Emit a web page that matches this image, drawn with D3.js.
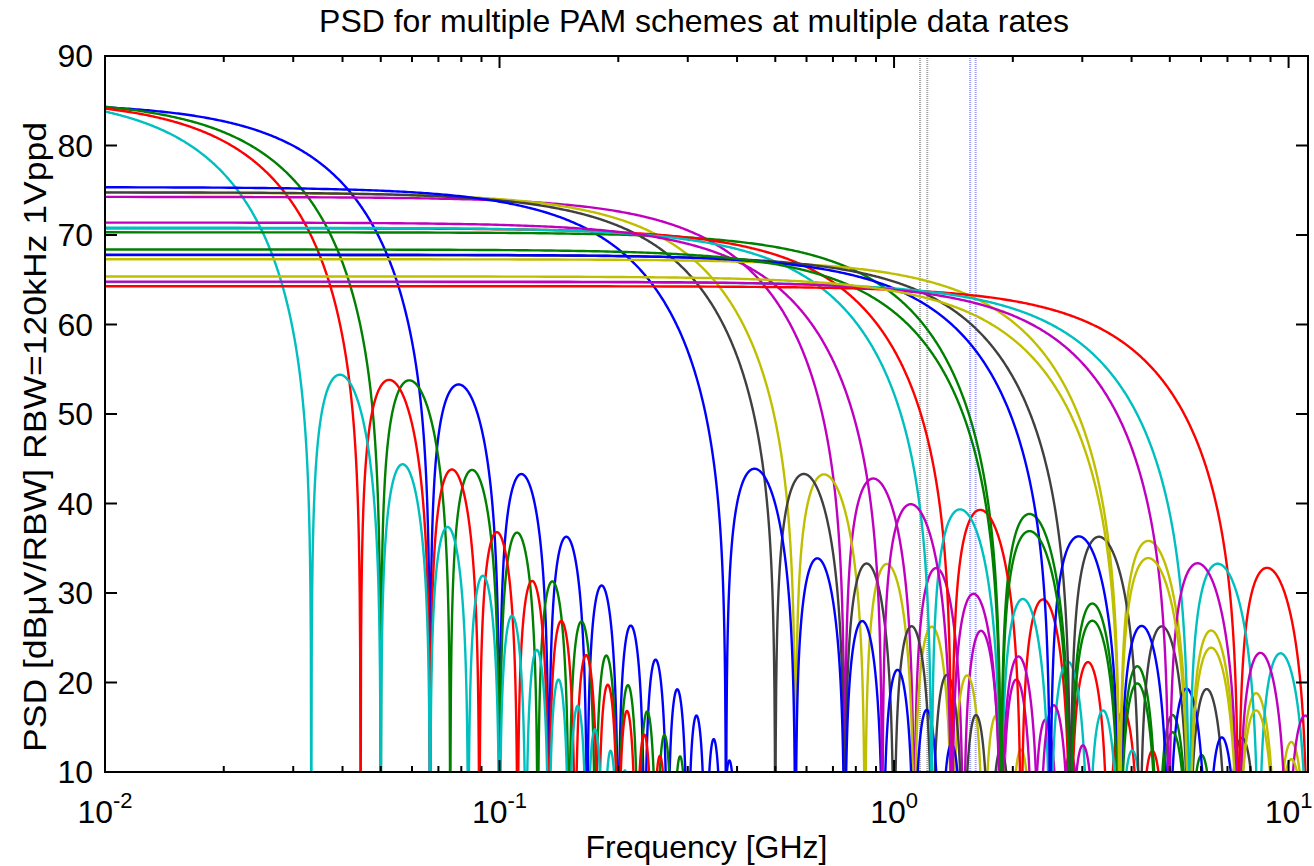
<!DOCTYPE html>
<html lang="en">
<head>
<meta charset="UTF-8">
<title>PSD for multiple PAM schemes</title>
<script src="https://d3js.org/d3.v7.min.js"></script>
<style>
    body { margin: 0; background: #fff; }
    text { font-family: "Liberation Sans", Arial, Helvetica, sans-serif; fill: #000; }
</style>
</head>
<body>
<div id="chart"></div>
<script>
    // line bit rates (Gbps) and PAM schemes
    const dataRates = [0.1, 1.125, 2.8, 5.6, 11.2];
    const schemes = ["PAM3", "PAM4", "PAM5", "PAM8"];
    const bitsPerSymbol = [1.5, 2, 2.25, 3];
    // flat (DC) PSD level of each curve, dBuV per RBW, one row per data rate
    const dcLevels = [
        [84.77, 85.23, 85.28, 85.86],
        [74.26, 74.72, 74.77, 75.35],
        [70.30, 70.76, 70.81, 71.39],
        [67.29, 67.75, 67.80, 68.38],
        [64.28, 64.74, 64.79, 65.37]
    ];
    const colorOrder = ["#0000ff", "#008000", "#ff0000", "#00bfbf", "#bf00bf", "#bfbf00", "#404040"];
    // dotted marker bands (GHz)
    const bands = [[1.164, 1.214], [1.559, 1.610]];
    const bandColors = ["#a0a0a0", "#9a9aff"];
    const yTicks = [10, 20, 30, 40, 50, 60, 70, 80, 90];
    const xMajor = [0.01, 0.1, 1, 10];

    const W = 1314, H = 866;
    const pLeft = 105, pRight = 1308, pTop = 56, pBottom = 772;

    const svg = d3.select("#chart").append("svg")
        .attr("width", W).attr("height", H);

    const x = d3.scaleLog().domain([0.01, 11.2]).range([pLeft, pRight]);
    const y = d3.scaleLinear().domain([10, 90]).range([pBottom, pTop]);

    svg.append("clipPath").attr("id", "plotclip")
        .append("rect")
        .attr("x", pLeft).attr("y", pTop)
        .attr("width", pRight - pLeft).attr("height", pBottom - pTop);

    // spectrum of a raised-cosine (Hann) shaped symbol, first null at the symbol rate
    function shape(u) {
        if (u === 0) return 1;
        const d = 1 - u * u;
        if (Math.abs(d) < 1e-9) return 0.5;
        return Math.sin(Math.PI * u) / (Math.PI * u) / d;
    }

    const curves = [];
    dataRates.forEach(function (rate, ri) {
        schemes.forEach(function (s, si) {
            curves.push({
                baud: rate / bitsPerSymbol[si],
                level: dcLevels[ri][si],
                color: colorOrder[curves.length % colorOrder.length]
            });
        });
    });

    const line = d3.line()
        .x(function (d) { return x(d[0]); })
        .y(function (d) { return y(d[1]); });

    const g = svg.append("g").attr("clip-path", "url(#plotclip)");

    // marker bands
    bands.forEach(function (b, i) {
        b.forEach(function (f) {
            g.append("line")
                .attr("x1", x(f)).attr("x2", x(f))
                .attr("y1", pTop).attr("y2", pBottom)
                .attr("stroke", bandColors[i])
                .attr("stroke-width", 2)
                .attr("stroke-dasharray", "1,1");
        });
    });

    curves.forEach(function (c) {
        const half = c.baud / 2;
        const u0 = 0.01 / half;
        const uMax = 11.2 / half;
        const pts = [[0.01, c.level + 20 * Math.log10(Math.max(Math.abs(shape(u0)), 1e-6))]];
        for (let i = Math.floor(u0 * 200) + 1; i / 200 <= uMax; i++) {
            const u = i / 200;
            const v = c.level + 20 * Math.log10(Math.max(Math.abs(shape(u)), 1e-6));
            pts.push([u * half, Math.max(v, 0)]);
            // stop once the sidelobe envelope is well below the axis
            if (u > 3 && c.level - 20 * Math.log10(Math.PI * u * (u * u - 1)) < 0) break;
        }
        g.append("path")
            .datum(pts)
            .attr("d", line)
            .attr("fill", "none")
            .attr("stroke", c.color)
            .attr("stroke-width", 2.4)
            .attr("stroke-linejoin", "round");
    });

    // axes box
    svg.append("rect")
        .attr("x", pLeft).attr("y", pTop)
        .attr("width", pRight - pLeft).attr("height", pBottom - pTop)
        .attr("fill", "none").attr("stroke", "#000").attr("stroke-width", 2);

    // y ticks (inside, both sides)
    yTicks.forEach(function (t) {
        svg.append("line").attr("x1", pLeft).attr("x2", pLeft + 12)
            .attr("y1", y(t)).attr("y2", y(t)).attr("stroke", "#000").attr("stroke-width", 2);
        svg.append("line").attr("x1", pRight).attr("x2", pRight - 12)
            .attr("y1", y(t)).attr("y2", y(t)).attr("stroke", "#000").attr("stroke-width", 2);
        svg.append("text")
            .attr("x", pLeft - 12).attr("y", y(t) + 11)
            .attr("text-anchor", "end")
            .style("font-size", "32px")
            .text(t);
    });

    // x ticks: minor and major
    const minor = [];
    [0.01, 0.1, 1].forEach(function (d) {
        for (let k = 2; k <= 9; k++) minor.push(d * k);
    });
    minor.forEach(function (t) {
        [[pBottom, pBottom - 6], [pTop, pTop + 6]].forEach(function (p) {
            svg.append("line").attr("x1", x(t)).attr("x2", x(t))
                .attr("y1", p[0]).attr("y2", p[1]).attr("stroke", "#000").attr("stroke-width", 2);
        });
    });
    xMajor.forEach(function (t) {
        [[pBottom, pBottom - 12], [pTop, pTop + 12]].forEach(function (p) {
            svg.append("line").attr("x1", x(t)).attr("x2", x(t))
                .attr("y1", p[0]).attr("y2", p[1]).attr("stroke", "#000").attr("stroke-width", 2);
        });
        const lbl = svg.append("text")
            .attr("x", x(t)).attr("y", 823)
            .attr("text-anchor", "middle")
            .style("font-size", "32px");
        lbl.append("tspan").text("10");
        lbl.append("tspan")
            .attr("dy", -15)
            .style("font-size", "22px")
            .text(Math.round(Math.log10(t)));
    });

    // labels
    svg.append("text")
        .attr("x", 694).attr("y", 32)
        .attr("text-anchor", "middle")
        .style("font-size", "32px")
        .text("PSD for multiple PAM schemes at multiple data rates");

    svg.append("text")
        .attr("x", (pLeft + pRight) / 2).attr("y", 858)
        .attr("text-anchor", "middle")
        .style("font-size", "32px")
        .text("Frequency [GHz]");

    svg.append("text")
        .attr("transform", "translate(46," + 437 + ") rotate(-90)")
        .attr("text-anchor", "middle")
        .attr("textLength", 630)
        .attr("lengthAdjust", "spacingAndGlyphs")
        .style("font-size", "32px")
        .text("PSD [dBμV/RBW] RBW=120kHz 1Vppd");
</script>
</body>
</html>
